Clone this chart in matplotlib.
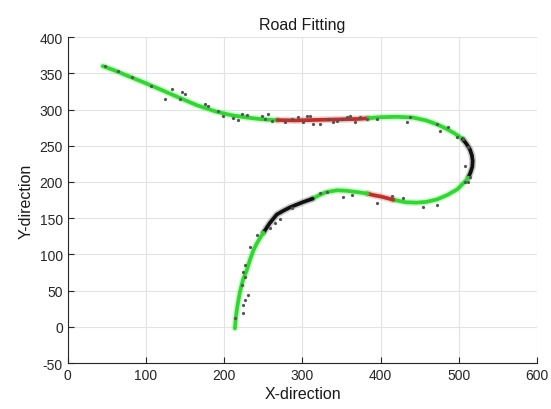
import numpy as np
import matplotlib
matplotlib.use("Agg")
import matplotlib.pyplot as plt

plt.rcParams['font.family'] = ['Liberation Sans', 'DejaVu Sans']
plt.rcParams['axes.unicode_minus'] = False

# ==== fitted road segments (waypoints) ====
green1_x = [44.8, 60, 80, 96, 120, 139, 165, 190, 210, 229, 245, 262, 268]
green1_y = [360, 354, 345, 338, 327, 318, 306, 297, 292, 289, 287, 285.5, 285.5]

red1_x = [268, 290, 310, 330, 350, 370, 384]
red1_y = [285.5, 285, 285.5, 286, 286.5, 287, 288]

green2_x = [384, 400, 420, 441, 458, 472, 483, 493, 500, 505]
green2_y = [288, 289.5, 290, 289, 285, 279.5, 274, 268, 263, 259]

black1_x = [505, 510, 514, 516.5, 517.5, 517, 515, 512]
black1_y = [259, 252, 245, 237, 229, 221, 214, 206]

green3_x = [512, 508, 498, 485, 472, 458, 446, 432, 416]
green3_y = [206, 201, 190, 182, 176, 172.5, 171.5, 172, 175.5]

red2_x = [416, 400, 390, 383]
red2_y = [175.5, 180, 182, 184]

green4_x = [383, 370, 355, 344, 330, 320, 313]
green4_y = [184, 186, 188, 188.5, 186, 181, 177]

black2_x = [313, 300, 284, 275, 267, 258, 250]
black2_y = [177, 172, 165, 160, 155, 143, 130]

green5_x = [250, 242, 237, 233, 229, 224, 220, 217.5, 215, 213.6]
green5_y = [130, 116, 105, 93, 79, 65, 48, 33, 15, -2]

# ==== raw measured points ====
pts_x = [47, 64, 82, 107, 133, 124, 146, 150, 143,
         175, 179, 192, 198, 211, 217.5, 222.6, 229, 248, 252, 261, 256,
         277.6, 294, 305.7, 309.6, 313.4, 322.4, 332.6, 339, 344, 350.5,
         357, 360.7, 367, 373.5, 382.5, 300.6, 286.6,
         395, 433.7, 437.5, 472, 476, 486, 497.6, 505, 511.7, 507.9, 514, 511.7,
         322.4, 331.3, 351.8, 363.3, 395.3, 414.5, 428.5, 454, 472, 508,
         286.6, 271.2, 264.8, 258.4, 241.8, 232.8, 226.4, 223.9, 226.4,
         222.6, 230, 226.4, 223.9, 223.9, 213.6]
pts_y = [360, 353, 345, 332, 328, 314, 324, 321, 314,
         307, 304.5, 297.5, 290.6, 288, 285, 293.4, 292, 290.6, 286.5, 283.7, 293.4,
         282.3, 289.2, 290.6, 290.6, 279.5, 279.5, 286.5, 282.3, 283.7, 286.5,
         289.2, 290.6, 282.3, 289.2, 286.5, 282.3, 286.5,
         286.5, 282.3, 289.2, 279.5, 269.8, 275.4, 261.5, 258.8, 247.7, 221.4, 207.5, 200.6,
         185.4, 186.8, 179.9, 182.6, 171.5, 181.2, 178.5, 166, 168.8, 200.6,
         163.9, 148.6, 143, 136.2, 127.2, 110.6, 85.7, 76, 69,
         58, 44, 37, 30.3, 19.2, 12.3]

GREEN = '#2fd82f'
RED = '#c0302a'
BLACK = '#111111'

fig = plt.figure(figsize=(5.51, 4.10), dpi=100)
ax = fig.add_axes([0.123, 0.112, 0.852, 0.795])

segments = [(green1_x, green1_y, GREEN), (red1_x, red1_y, RED),
            (green2_x, green2_y, GREEN), (black1_x, black1_y, BLACK),
            (green3_x, green3_y, GREEN), (red2_x, red2_y, RED),
            (green4_x, green4_y, GREEN), (black2_x, black2_y, BLACK),
            (green5_x, green5_y, GREEN)]
for sx, sy, c in segments:
    # soft halo like the blurred original, then the main stroke
    ax.plot(sx, sy, color=c, lw=5, alpha=0.22, solid_capstyle='round', zorder=2)
    ax.plot(sx, sy, color=c, lw=2.7, solid_capstyle='round', zorder=3)

ax.plot(pts_x, pts_y, 'o', color='#555555', markersize=1.3, zorder=4)

ax.set_xlim(0, 600)
ax.set_ylim(-50, 400)
ax.set_xticks(np.arange(0, 601, 100))
ax.set_yticks(np.arange(-50, 401, 50))
ax.grid(True, color='#e3e3e3', linewidth=0.8)
ax.set_axisbelow(True)
for s in ['top', 'right']:
    ax.spines[s].set_visible(False)
for s in ['left', 'bottom']:
    ax.spines[s].set_color('#262626')
    ax.spines[s].set_linewidth(0.8)
ax.tick_params(direction='in', length=4, width=0.8, colors='#262626',
               labelsize=10, labelcolor='#262626')

ax.set_title('Road Fitting', fontsize=11.5, color='#1a1a1a', pad=6)
ax.set_xlabel('X-direction', fontsize=11.5, color='#1a1a1a', labelpad=3)
ax.set_ylabel('Y-direction', fontsize=11.5, color='#1a1a1a', labelpad=4)

fig.savefig('out.png', dpi=100)
